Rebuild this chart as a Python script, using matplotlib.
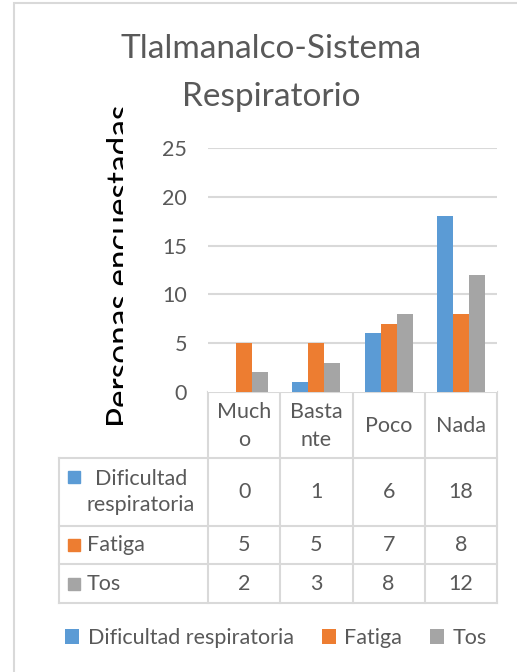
import matplotlib
matplotlib.use("Agg")
import matplotlib.pyplot as plt
from matplotlib.patches import Rectangle
import numpy as np

plt.rcParams['font.family'] = ['Lato', 'DejaVu Sans']

# ---- data ----
title = "Tlalmanalco-Sistema\nRespiratorio"
ylabel = "Personas encuestadas"
categories = ["Mucho", "Bastante", "Poco", "Nada"]
header_labels = ["Much\no", "Basta\nnte", "Poco", "Nada"]
series_names = ["Dificultad respiratoria", "Fatiga", "Tos"]
row_labels = ["Dificultad\nrespiratoria", "Fatiga", "Tos"]
dificultad = [0, 1, 6, 18]
fatiga = [5, 5, 7, 8]
tos = [2, 3, 8, 12]
series_values = [dificultad, fatiga, tos]
colors = ["#5B9BD5", "#ED7D31", "#A5A5A5"]
yticks = [0, 5, 10, 15, 20, 25]

W, H = 517, 672
fig = plt.figure(figsize=(W / 100, H / 100), dpi=100)
TXT = "#595959"
GRID = "#D9D9D9"
FS = 15.5

def fx(px):
    return px / W

def fy(py):
    return 1 - py / H

# main plot area (pixels)
PL, PR, PT, PB = 208, 497, 148, 392
ax = fig.add_axes([fx(PL), fy(PB), fx(PR - PL), (PB - PT) / H])
x = np.arange(len(categories))
bw = 0.222
handles = []
for i, (vals, c, name) in enumerate(zip(series_values, colors, series_names)):
    h = ax.bar(x + (i - 1) * bw, vals, width=bw, color=c, label=name, zorder=3)
    handles.append(h)
ax.set_xlim(-0.5, len(categories) - 0.5)
ax.set_ylim(0, 25)
ax.set_yticks(yticks)
ax.set_yticklabels([str(t) for t in yticks], color=TXT, fontsize=FS)
ax.tick_params(axis='y', length=0, pad=15)
ax.set_xticks([])
for s in ax.spines.values():
    s.set_visible(False)
for t in yticks[1:]:
    ax.axhline(t, color=GRID, lw=1.5, zorder=1)

# clipped y-axis label
CLIP_R = 123
lax = fig.add_axes([0, fy(440), fx(CLIP_R), (440 - 95) / H], zorder=-2)
lax.set_xlim(0, CLIP_R)
lax.set_ylim(440, 95)
lax.axis('off')
lax.text(131, 266, ylabel, rotation=90, rotation_mode='anchor',
         ha='center', va='baseline', fontsize=24, color='black', clip_on=True)

# overlay axes in pixel coordinates for table, title, border
tax = fig.add_axes([0, 0, 1, 1], zorder=-1)
tax.set_xlim(0, W)
tax.set_ylim(H, 0)
tax.axis('off')
# mask hiding the clipped part of the axis title
tax.add_patch(Rectangle((CLIP_R, 90), 22, 355, facecolor='white',
                        edgecolor='none', zorder=5))

# outer chart border
tax.plot([14, 14, W + 5], [H + 5, 3, 3], color=GRID, lw=1.5, solid_joinstyle='miter')

# title
tax.text(271, 73, title, ha='center', va='center', fontsize=24, color=TXT,
         linespacing=1.72)

# data table
col_left = PL
col_w = (PR - PL) / len(categories)
lab_left = 59
rows_y = [392, 458, 526, 564, 603]
lw = 1.5
tax.plot([PL, PR], [rows_y[0], rows_y[0]], color=GRID, lw=lw)
for yy in rows_y[1:]:
    tax.plot([lab_left, PR], [yy, yy], color=GRID, lw=lw)
for j in range(len(categories) + 1):
    xx = col_left + j * col_w
    tax.plot([xx, xx], [rows_y[0], rows_y[-1]], color=GRID, lw=lw)
tax.plot([lab_left, lab_left], [rows_y[1], rows_y[-1]], color=GRID, lw=lw)

for j, lab in enumerate(header_labels):
    tax.text(col_left + (j + 0.5) * col_w, (rows_y[0] + rows_y[1]) / 2 + 1, lab,
             ha='center', va='center', fontsize=FS, color=TXT, linespacing=1.55)

for r, (lab, vals, c) in enumerate(zip(row_labels, series_values, colors)):
    yc = (rows_y[r + 1] + rows_y[r + 2]) / 2
    for j, v in enumerate(vals):
        tax.text(col_left + (j + 0.5) * col_w, yc, str(v), ha='center', va='center',
                 fontsize=FS, color=TXT)
    tax.text(87, yc, lab, ha='left', va='center', fontsize=FS, color=TXT,
             multialignment='center', linespacing=1.42)
    ky = yc - 15 if '\n' in lab else yc
    tax.add_patch(Rectangle((68, ky - 6), 12, 12, color=c))

# legend
fig.legend(handles=handles, labels=series_names, loc='center',
           bbox_to_anchor=(fx(276), fy(638)), ncol=3, frameon=False,
           fontsize=FS, labelcolor=TXT, handlelength=0.65, handleheight=0.65,
           handletextpad=0.4, columnspacing=1.3)

fig.savefig("out.png", dpi=100)
